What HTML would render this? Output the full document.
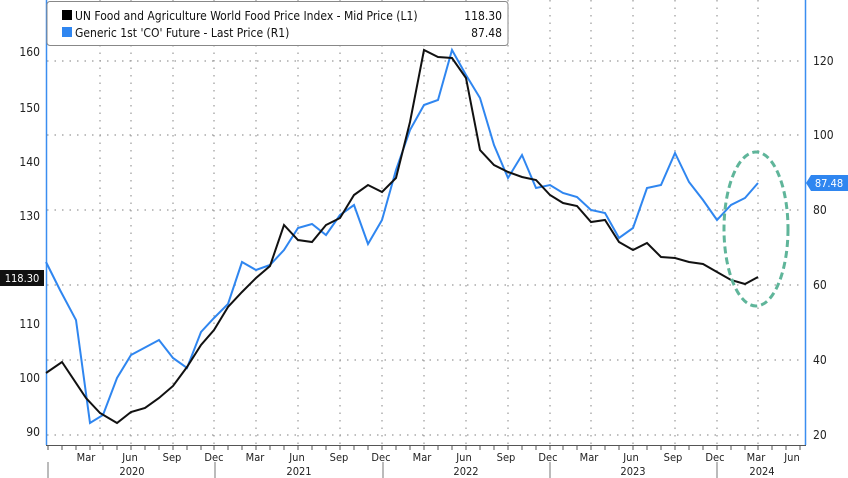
<!DOCTYPE html><html><head><style>body{margin:0;background:#fff}svg{display:block;font-family:"DejaVu Sans Condensed","Liberation Sans",sans-serif}</style></head><body>
<svg width="848" height="478" viewBox="0 0 848 478">
<g stroke="#999" stroke-dasharray="1.5,6" stroke-width="1.2">
<line x1="47" y1="61" x2="804" y2="61"/><line x1="47" y1="135" x2="804" y2="135"/><line x1="47" y1="210" x2="804" y2="210"/><line x1="47" y1="285" x2="804" y2="285"/><line x1="47" y1="360" x2="804" y2="360"/><line x1="47" y1="435" x2="804" y2="435"/>
<line x1="100" y1="0" x2="100" y2="444"/><line x1="214" y1="0" x2="214" y2="444"/><line x1="131" y1="0" x2="131" y2="444"/><line x1="173" y1="0" x2="173" y2="444"/>
<line x1="256" y1="0" x2="256" y2="444"/><line x1="298" y1="0" x2="298" y2="444"/><line x1="340" y1="0" x2="340" y2="444"/><line x1="382" y1="0" x2="382" y2="444"/>
<line x1="424" y1="0" x2="424" y2="444"/><line x1="466" y1="0" x2="466" y2="444"/><line x1="508" y1="0" x2="508" y2="444"/><line x1="550" y1="0" x2="550" y2="444"/>
<line x1="591" y1="0" x2="591" y2="444"/><line x1="633" y1="0" x2="633" y2="444"/><line x1="675" y1="0" x2="675" y2="444"/><line x1="717" y1="0" x2="717" y2="444"/><line x1="758" y1="0" x2="758" y2="444"/>
</g>
<line x1="46.5" y1="0" x2="46.5" y2="445" stroke="#3a8ef0" stroke-width="1.5"/>
<line x1="805.5" y1="0" x2="805.5" y2="445" stroke="#3a8ef0" stroke-width="1.5"/>
<line x1="46" y1="445.5" x2="806" y2="445.5" stroke="#555"/>
<path stroke="#555" d="M48,446v4M62,446v4M76,446v4M90,446v4M103,446v4M117,446v4M131,446v4M145,446v4M159,446v4M173,446v4M187,446v4M201,446v4M214,446v4M228,446v4M242,446v4M256,446v4M270,446v4M284,446v4M298,446v4M312,446v4M326,446v4M340,446v4M354,446v4M368,446v4M382,446v4M396,446v4M410,446v4M424,446v4M438,446v4M452,446v4M466,446v4M480,446v4M494,446v4M508,446v4M522,446v4M536,446v4M550,446v4M563,446v4M577,446v4M591,446v4M605,446v4M619,446v4M633,446v4M647,446v4M661,446v4M675,446v4M689,446v4M703,446v4M717,446v4M731,446v4M745,446v4M758,446v4M772,446v4M786,446v4M800,446v4"/>
<g fill="#222" font-size="12" text-anchor="end">
<text x="40" y="56">160</text><text x="40" y="112">150</text><text x="40" y="166">140</text><text x="40" y="220">130</text><text x="40" y="328">110</text><text x="40" y="382">100</text><text x="40" y="436">90</text></g>
<g fill="#222" font-size="12"><text x="813" y="65">120</text><text x="813" y="139">100</text><text x="813" y="214">80</text><text x="813" y="289">60</text><text x="813" y="364">40</text><text x="813" y="439">20</text></g>
<g fill="#222" font-size="11" text-anchor="middle">
<text x="86" y="461">Mar</text><text x="130" y="461">Jun</text><text x="172" y="461">Sep</text><text x="214" y="461">Dec</text>
<text x="255" y="461">Mar</text><text x="297" y="461">Jun</text><text x="339" y="461">Sep</text><text x="381" y="461">Dec</text>
<text x="422" y="461">Mar</text><text x="464" y="461">Jun</text><text x="506" y="461">Sep</text><text x="548" y="461">Dec</text>
<text x="589" y="461">Mar</text><text x="631" y="461">Jun</text><text x="673" y="461">Sep</text><text x="715" y="461">Dec</text>
<text x="756" y="461">Mar</text><text x="792" y="461">Jun</text>
<text x="132" y="475">2020</text><text x="299" y="475">2021</text><text x="466" y="475">2022</text><text x="633" y="475">2023</text><text x="762" y="475">2024</text></g>
<g stroke="#777"><line x1="48" y1="462" x2="48" y2="478"/><line x1="215" y1="462" x2="215" y2="478"/><line x1="383" y1="462" x2="383" y2="478"/><line x1="550" y1="462" x2="550" y2="478"/><line x1="717" y1="462" x2="717" y2="478"/></g>
<polyline fill="none" stroke="#2f86f0" stroke-width="2" points="46,262 60,290 76,320 90,423 103,415 117,378 131,355 159,340 173,358 187,368 201,332 214,318 228,304 242,262 256,270 270,265 284,250 298,228 312,224 326,235 340,215 354,205 368,244 382,220 396,170 410,130 424,105 438,100 452,50 466,75 480,98 494,145 508,178 522,155 536,188 550,185 563,193 577,197 591,210 605,213 619,238 633,228 647,188 661,185 675,153 689,182 703,200 717,220 731,205 745,198 758,183"/>
<polyline fill="none" stroke="#111" stroke-width="2" points="46,373 62,362 86,398 100,413 117,423 131,412 145,408 159,398 173,386 187,367 201,345 214,330 228,307 242,292 256,278 270,266 284,225 298,240 312,242 326,225 340,218 354,195 368,185 382,192 396,178 410,122 424,50 438,57 452,58 466,78 480,150 494,165 508,172 522,177 536,180 550,195 563,203 577,206 591,222 605,220 619,242 633,250 647,243 661,257 675,258 689,262 703,264 717,272 731,280 745,284 758,277"/>
<ellipse cx="756" cy="229" rx="32" ry="77" fill="none" stroke="#5fb59a" stroke-width="3" stroke-dasharray="7,4"/>
<rect x="0" y="270" width="44" height="16" fill="#111"/><text x="22" y="282" fill="#fff" font-size="11" text-anchor="middle">118.30</text>
<path d="M811,175 L848,175 L848,191 L811,191 L806,183Z" fill="#2f86f0"/><text x="829" y="187" fill="#fff" font-size="11" text-anchor="middle">87.48</text>
<rect x="47" y="1.5" width="461" height="44" rx="3" fill="#fff" stroke="#888"/>
<rect x="62" y="10" width="10" height="10" fill="#000"/><rect x="62" y="27" width="10" height="10" fill="#2f86f0"/>
<g font-size="12" fill="#111"><text x="75" y="20">UN Food and Agriculture World Food Price Index - Mid Price (L1)</text><text x="75" y="37">Generic 1st 'CO' Future - Last Price (R1)</text>
<text x="502" y="20" text-anchor="end">118.30</text><text x="502" y="37" text-anchor="end">87.48</text></g>
</svg></body></html>
